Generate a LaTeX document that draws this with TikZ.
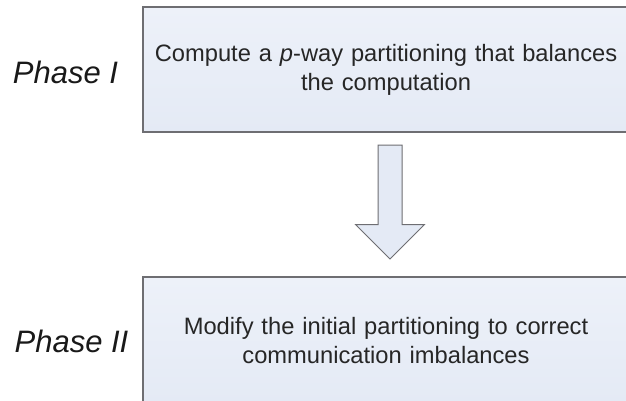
\documentclass[tikz,border=0pt]{standalone}
\usepackage{fontspec}
\setmainfont{Liberation Sans}
\usepackage{tikz}
\usetikzlibrary{positioning}

\definecolor{boxfill}{HTML}{E4EAF5}
\definecolor{boxtop}{HTML}{EDF1F9}
\definecolor{boxline}{HTML}{6E6E72}

\begin{document}
\begin{tikzpicture}[x=1pt, y=-1pt,
  phase/.style={draw=boxline, line width=2pt, top color=boxtop, bottom color=boxfill,
    minimum width=486pt, text width=480pt, align=center, inner sep=0pt,
    font=\fontsize{23.7}{29}\selectfont, text=black!85},
  lbl/.style={font=\fontsize{31}{34}\selectfont\itshape, text=black!90, anchor=base},
  flow/.style={draw=boxline, line width=1pt, fill=boxfill, line join=miter},
]
\clip (0,0) rectangle (626,400);
\fill[white] (0,0) rectangle (626,400);

\node[phase, minimum height=125pt] (one) at (386,69.5) {Compute a \textit{p}-way partitioning that balances\\ the computation\\[-4pt]};
\node[phase, minimum height=127pt] (two) at (386,340.5) {Modify the initial partitioning to correct\\ communication imbalances};

\node[lbl] (lblone) at (65.5,83) {Phase I};
\node[lbl] (lbltwo) at (71.5,352) {Phase II};

% step from phase one to phase two
\draw[flow] (378,145) -- (402,145) -- (402,224.5) -- (424.5,224.5) -- (390,259)
  -- (355.5,224.5) -- (378,224.5) -- cycle;
\end{tikzpicture}
\end{document}
